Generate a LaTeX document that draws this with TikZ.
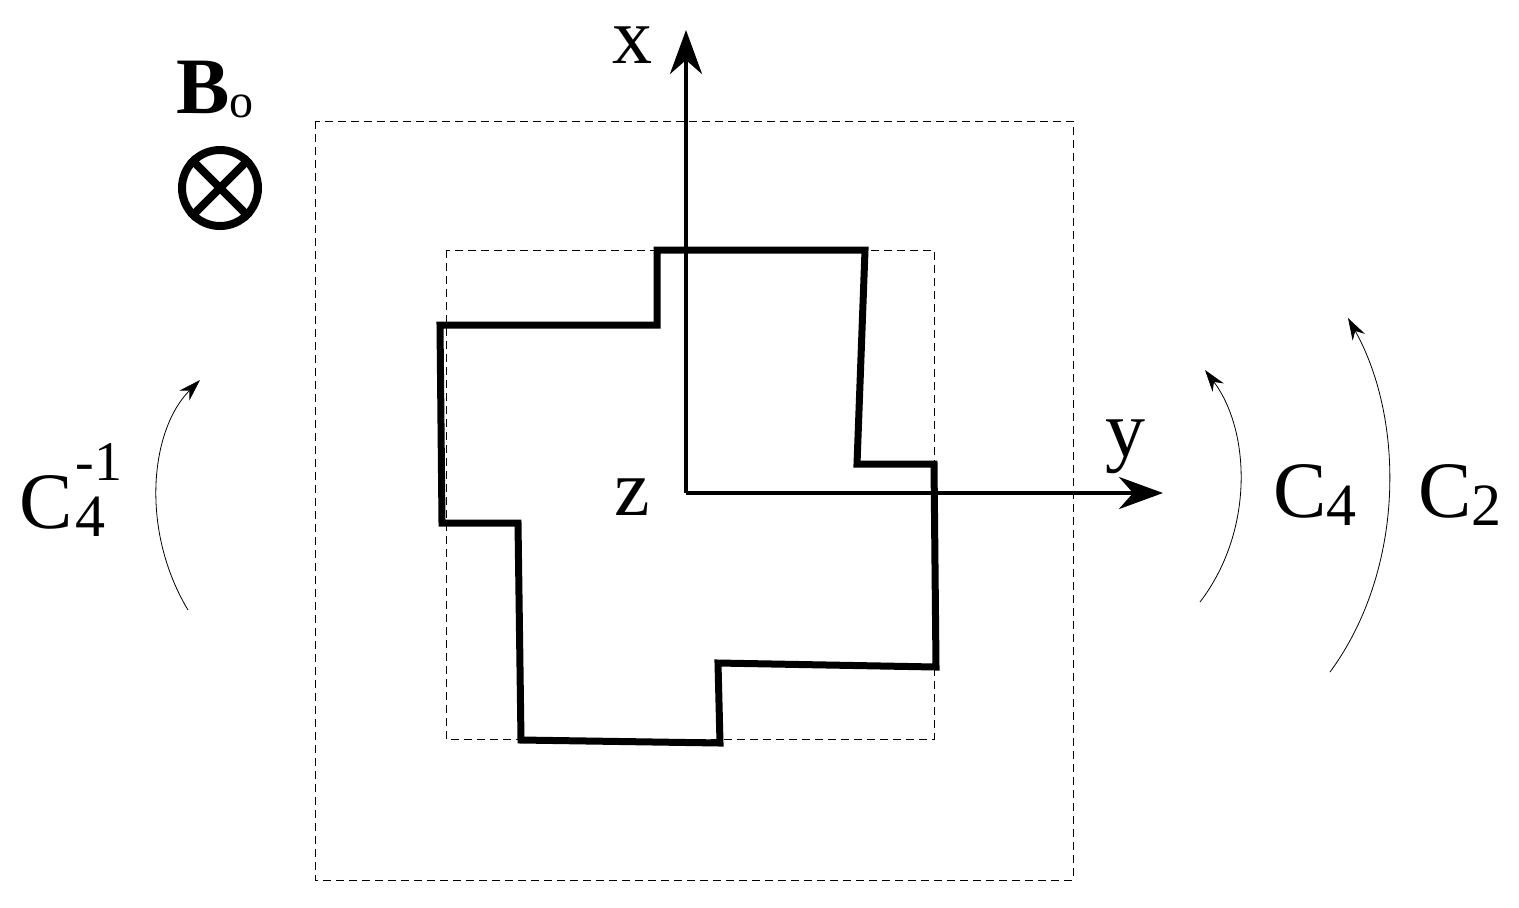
\documentclass[tikz,border=0pt]{standalone}
\usepackage{fontspec}
\setmainfont{Liberation Serif}
\usetikzlibrary{arrows.meta}
\begin{document}
\begin{tikzpicture}[x=0.5pt,y=-0.5pt,
  dashbox/.style={draw,thin,dash pattern=on 4pt off 2.5pt},
  lbl/.style={font=\fontsize{40}{44}\selectfont,inner sep=0},
  ax/.style={line width=2pt,-{Stealth[length=22pt,width=16pt,inset=7pt]}},
  rot/.style={thin,-{Stealth[length=11pt,width=7pt]}}]
\useasboundingbox (0,0) rectangle (1519,907);
\draw[dashbox] (315,121) rectangle (1073,880);
\draw[dashbox] (446,250) rectangle (934,739);
\draw[line width=3.5pt,line join=miter] (440,325)--(657,325)--(657,250)--(865,250)--(857,464)--(934,464)--(936,667)--(718,663)--(720,743)--(521,740)--(518,523)--(442,523)--cycle;
\coordinate (o) at (686,493);
\coordinate (xe) at (686,30);
\coordinate (ye) at (1163,493);
\draw[ax] (o)--(xe);
\draw[ax] (o)--(ye);
\node[lbl] (xl) at (632,45) {x};
\node[lbl] (yl) at (1125,447) {y};
\node[lbl] (zl) at (632,497) {z};
\node[lbl] (B) at (215,90) {\textbf{B}\raisebox{-2pt}{\fontsize{24}{26}\selectfont o}};
\node[circle,draw,line width=4pt,minimum size=38pt,inner sep=0] (ot) at (220,188) {};
\draw[line width=4pt] (ot.45)--(ot.225) (ot.135)--(ot.315);
\coordinate (l1) at (188,610); \coordinate (l2) at (200,380);
\draw[rot] (l1) .. controls (140,530) and (150,430) .. (l2);
\coordinate (r1) at (1200,602); \coordinate (r2) at (1205,370);
\draw[rot] (r1) .. controls (1255,530) and (1250,430) .. (r2);
\coordinate (s1) at (1330,672); \coordinate (s2) at (1348,318);
\draw[rot] (s1) .. controls (1405,570) and (1405,420) .. (s2);
\node[lbl] (cm) at (72,490) {C\kern1pt\rlap{\raisebox{24pt}{\fontsize{28}{30}\selectfont -1}}\raisebox{-4pt}{\fontsize{30}{32}\selectfont 4}\hphantom{\fontsize{28}{30}\selectfont -}};
\node[lbl] (c4) at (1315,495) {C\raisebox{-4pt}{\fontsize{30}{32}\selectfont 4}};
\node[lbl] (c2) at (1460,495) {C\raisebox{-4pt}{\fontsize{30}{32}\selectfont 2}};
\end{tikzpicture}
\end{document}
